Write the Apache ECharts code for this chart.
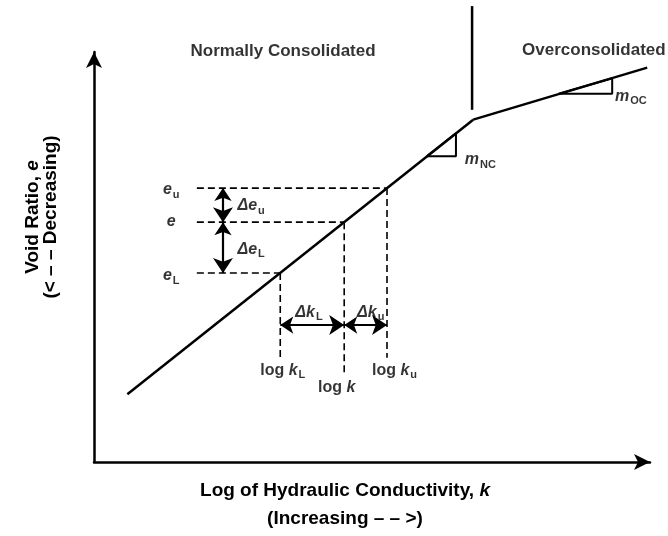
<!DOCTYPE html>
<html>
<head>
<meta charset="utf-8">
<script src="https://cdn.jsdelivr.net/npm/echarts@6/dist/echarts.min.js"></script>
<style>
  html, body { margin: 0; padding: 0; background: #fff; }
  #chart { width: 668px; height: 536px; }
</style>
</head>
<body>
<div id="chart"></div>
<script>
// diagram values, in (log k, e) units of the plot (0..10 on both axes)
const ncLine = [[0.6, 1.65], [6.82, 8.35]];      // normally consolidated branch
const ocLine = [[6.82, 8.35], [9.95, 9.62]];     // overconsolidated branch
const divider = [[6.8, 8.59], [6.8, 11.12]];     // boundary between the two zones
const eLevels = [4.61, 5.85, 6.68];              // e_L, e, e_u
const kLevels = [3.35, 4.5, 5.27];               // log k_L, log k, log k_u
const kDashBottom = [2.54, 2.12, 2.54];          // where the vertical dashes stop
const dashStartX = 1.85;
const deArrowX = 2.32;                           // x of the Δe arrows
const dkArrowY = 3.34;                           // y of the Δk arrows
const ncTriangle = [[5.99, 7.46], [6.51, 7.46], [6.51, 8.02], [5.99, 7.46]];
const ocTriangle = [[8.36, 8.98], [9.32, 8.98], [9.32, 9.36], [8.36, 8.98]];

// annotation texts: [x, y, rich text, align]
const headings = [
  [3.40, 10.02, 'Normally Consolidated', 'center'],
  [8.99, 10.05, 'Overconsolidated', 'center']
];
const symbols = [
  [1.24, 6.61, '{i|e}{s|u}'],
  [1.31, 5.83, '{i|e}'],
  [1.24, 4.51, '{i|e}{s|L}'],
  [2.58, 6.22, '{i|Δe}{s|u}'],
  [2.58, 5.15, '{i|Δe}{s|L}'],
  [3.62, 3.63, '{i|Δk}{s|L}'],
  [4.73, 3.63, '{i|Δk}{s|u}'],
  [2.99, 2.20, '{b|log }{i|k}{s|L}'],
  [4.03, 1.78, '{b|log }{i|k}'],
  [5.00, 2.20, '{b|log }{i|k}{s|u}'],
  [6.67, 7.34, '{i|m}{s|NC}'],
  [9.37, 8.90, '{i|m}{s|OC}']
];

const FONT = 'Liberation Sans, Arial, sans-serif';
const rich = {
  b: { fontFamily: FONT, fontWeight: 'bold', fontSize: 16, lineHeight: 18, verticalAlign: 'top', color: '#000' },
  i: { fontFamily: FONT, fontWeight: 'bold', fontStyle: 'italic', fontSize: 16, lineHeight: 18, verticalAlign: 'top', color: '#000' },
  s: { fontFamily: FONT, fontWeight: 'bold', fontSize: 11, lineHeight: 12, padding: [9, 0, 0, 1], verticalAlign: 'bottom', color: '#000' }
};

const dashed = [];
eLevels.forEach((e, i) => {
  dashed.push([[dashStartX, e], [kLevels[i], e]]);
  dashed.push([[kLevels[i], e], [kLevels[i], kDashBottom[i]]]);
});

const arrows = [
  { coords: [[deArrowX, eLevels[2]], [deArrowX, eLevels[1]]] },
  { coords: [[deArrowX, eLevels[1]], [deArrowX, eLevels[0]]] },
  { coords: [[kLevels[0], dkArrowY], [kLevels[1], dkArrowY]] },
  { coords: [[kLevels[1], dkArrowY], [kLevels[2], dkArrowY]] }
];

const solid = (data, w) => ({
  type: 'line', data: data, clip: false, symbol: 'none', silent: true,
  lineStyle: { color: '#000', width: w }
});

const series = [
  solid(ncLine, 2.5),
  solid(ocLine, 2.5),
  solid(divider, 2.5),
  solid(ncTriangle, 2),
  solid(ocTriangle, 2)
];
dashed.forEach(d => series.push({
  type: 'line', data: d, clip: false, symbol: 'none', silent: true,
  lineStyle: { color: '#000', width: 1.6, type: [7, 4] }
}));
series.push({
  type: 'lines', coordinateSystem: 'cartesian2d', data: arrows, silent: true,
  symbol: ['arrow', 'arrow'], symbolSize: [13, 15],
  lineStyle: { color: '#000', width: 2.2, opacity: 1 }
});
series.push({
  type: 'scatter', symbolSize: 0, clip: false, silent: true,
  data: headings.map(h => ({
    value: [h[0], h[1]],
    label: { show: true, position: [0, 0], formatter: h[2], align: h[3], verticalAlign: 'middle',
      fontFamily: FONT, fontWeight: 'bold', fontSize: 17, color: '#000' }
  }))
});
series.push({
  type: 'scatter', symbolSize: 0, clip: false, silent: true,
  data: symbols.map(s => ({
    value: [s[0], s[1]],
    label: { show: true, position: [0, 0], formatter: s[2], align: 'left', verticalAlign: 'middle', rich: rich }
  }))
});

const chart = echarts.init(document.getElementById('chart'));
chart.setOption({
  backgroundColor: '#fff',
  animation: false,
  grid: { left: 94, top: 52, width: 556, height: 410 },
  xAxis: {
    type: 'value', min: 0, max: 10,
    splitLine: { show: false }, axisTick: { show: false }, axisLabel: { show: false },
    axisLine: { show: true, onZero: false, symbol: ['none', 'arrow'], symbolSize: [12, 16],
      lineStyle: { color: '#000', width: 2.5 } },
    name: '{t|Log of Hydraulic Conductivity, }{ti|k}\n{t|(Increasing – – >)}',
    nameLocation: 'middle', nameGap: 15,
    nameTextStyle: {
      padding: [0, 54, 0, 0],
      rich: {
        t: { fontFamily: FONT, fontWeight: 'bold', fontSize: 19, lineHeight: 28, color: '#000' },
        ti: { fontFamily: FONT, fontWeight: 'bold', fontStyle: 'italic', fontSize: 19, lineHeight: 28, color: '#000' }
      }
    }
  },
  yAxis: {
    type: 'value', min: 0, max: 10,
    splitLine: { show: false }, axisTick: { show: false }, axisLabel: { show: false },
    axisLine: { show: true, onZero: false, symbol: ['none', 'arrow'], symbolSize: [12, 16],
      lineStyle: { color: '#000', width: 2.5 } },
    name: '{t|Void Ratio, }{ti|e}\n{t|(< – – Decreasing)}',
    nameLocation: 'middle', nameRotate: 90, nameGap: 34,
    nameTextStyle: {
      padding: [0, 0, 0, 80],
      rich: {
        t: { fontFamily: FONT, fontWeight: 'bold', fontSize: 19, lineHeight: 18, color: '#000' },
        ti: { fontFamily: FONT, fontWeight: 'bold', fontStyle: 'italic', fontSize: 19, lineHeight: 18, color: '#000' }
      }
    }
  },
  series: series
});
</script>
</body>
</html>
